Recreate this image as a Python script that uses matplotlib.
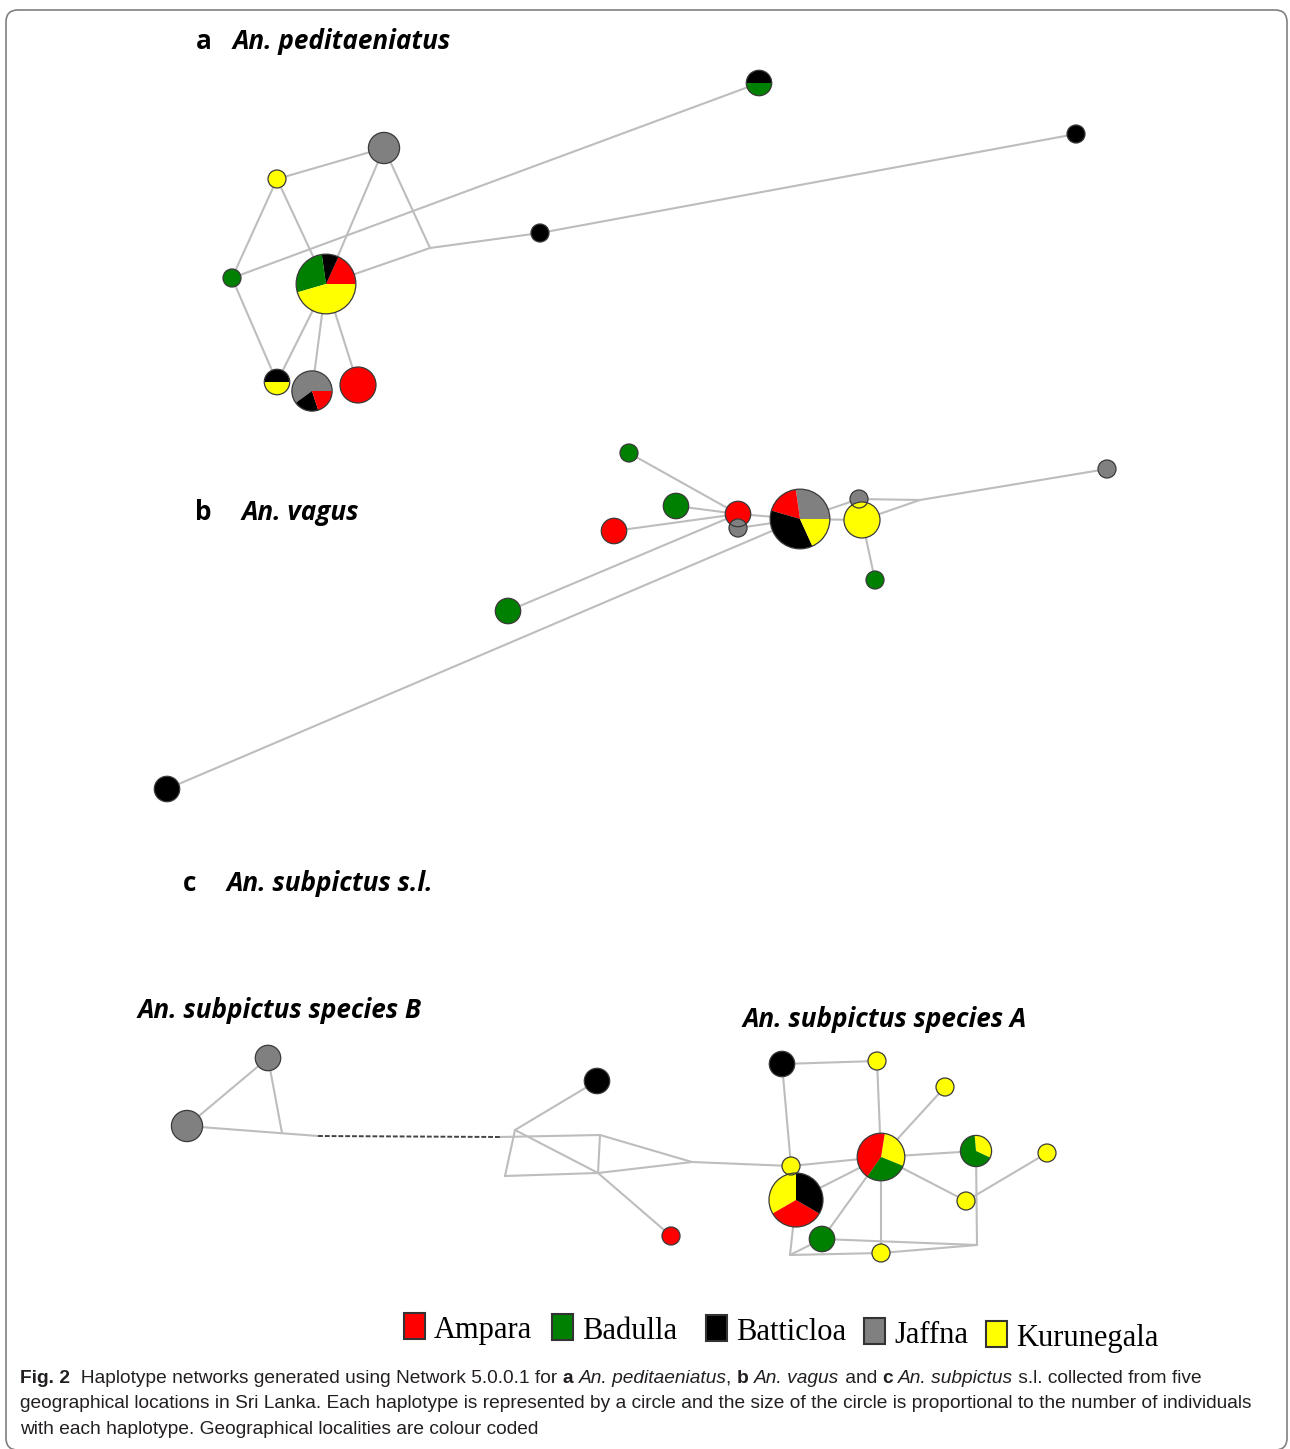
import numpy as np
import matplotlib
matplotlib.use("Agg")
import matplotlib.pyplot as plt
from matplotlib.patches import Wedge, Circle, FancyBboxPatch, Rectangle

# sampling localities and their colours
locations = ["Ampara", "Badulla", "Batticloa", "Jaffna", "Kurunegala"]
loc_colors = ["#ff0000", "#008000", "#000000", "#808080", "#ffff00"]

# --- network a: An. peditaeniatus ---
# haplotype counts per locality, in the order the wedges are drawn
a_names = ["Y1", "G1", "J1", "H1", "H2", "H3", "R1", "H4", "K1", "K2", "m1"]
a_counts = [
    {"Kurunegala": 1},
    {"Badulla": 1},
    {"Jaffna": 3},
    {"Ampara": 2, "Batticloa": 1, "Badulla": 3, "Kurunegala": 5},
    {"Batticloa": 1, "Kurunegala": 1},
    {"Jaffna": 3, "Batticloa": 1, "Ampara": 1},
    {"Ampara": 4},
    {"Batticloa": 1, "Badulla": 1},
    {"Batticloa": 1},
    {"Batticloa": 1},
    {},
]
a_start = [0, 0, 0, 0, 0, 0, 0, 0, 0, 0, 0]
a_x = [277, 232, 384, 326, 277, 312, 358, 759, 540, 1076, 430]
a_y = [179, 278, 148, 284, 382, 391, 385, 83, 233, 134, 248]
a_links = [("Y1", "J1"), ("Y1", "G1"), ("Y1", "H1"), ("J1", "H1"), ("J1", "m1"),
           ("G1", "H4"), ("H1", "m1"), ("m1", "K1"), ("K1", "K2"),
           ("G1", "H2"), ("H1", "H2"), ("H1", "H3"), ("H1", "R1")]

# --- network b: An. vagus ---
b_names = ["G1", "G2", "R1", "R2", "J1", "H1", "J2", "Y1", "G3", "J3", "G4", "K1", "m1"]
b_counts = [
    {"Badulla": 1},
    {"Badulla": 2},
    {"Ampara": 2},
    {"Ampara": 2},
    {"Jaffna": 1},
    {"Jaffna": 3, "Ampara": 2, "Batticloa": 4, "Kurunegala": 2},
    {"Jaffna": 1},
    {"Kurunegala": 4},
    {"Badulla": 1},
    {"Jaffna": 1},
    {"Badulla": 2},
    {"Batticloa": 2},
    {},
]
b_start = [0] * 13
b_x = [629, 676, 614, 738, 738, 800, 859, 862, 875, 1107, 508, 167, 920]
b_y = [453, 506, 531, 514, 528, 519, 499, 520, 580, 469, 611, 789, 500]
b_links = [("G1", "R2"), ("G2", "R2"), ("R1", "R2"), ("R2", "H1"), ("J1", "H1"),
           ("G4", "R2"), ("K1", "H1"), ("H1", "J2"), ("H1", "Y1"),
           ("J2", "m1"), ("Y1", "m1"), ("m1", "J3"), ("Y1", "G3")]

# --- network c: An. subpictus s.l. ---
c_names = ["B1", "B2", "K1", "R1", "Y1", "P1", "K2", "Y2", "Y3", "P2", "P3",
           "Y4", "Y5", "G1", "Y6",
           "m1", "m2", "m3", "m4", "m5", "m6", "m7", "m8", "m9", "m10"]
c_counts = [
    {"Jaffna": 3},
    {"Jaffna": 2},
    {"Batticloa": 2},
    {"Ampara": 1},
    {"Kurunegala": 1},
    {"Kurunegala": 3, "Ampara": 3, "Batticloa": 3},
    {"Batticloa": 2},
    {"Kurunegala": 1},
    {"Kurunegala": 1},
    {"Kurunegala": 2, "Ampara": 3, "Badulla": 2},
    {"Kurunegala": 1, "Badulla": 2},
    {"Kurunegala": 1},
    {"Kurunegala": 1},
    {"Badulla": 2},
    {"Kurunegala": 1},
] + [{}] * 10
c_start = [0, 0, 0, 0, 0, 90, 0, 0, 0, -22, -25, 0, 0, 0, 0] + [0] * 10
c_x = [187, 268, 597, 671, 791, 796, 782, 877, 945, 881, 976, 1047, 966, 822, 881,
       282, 318, 500, 515, 600, 598, 505, 692, 790, 977]
c_y = [1126, 1058, 1081, 1236, 1166, 1200, 1064, 1061, 1087, 1157, 1151, 1153, 1201, 1239, 1253,
       1133, 1136, 1137, 1130, 1135, 1173, 1176, 1162, 1255, 1245]
c_links = [("B1", "B2"), ("B2", "m1"), ("B1", "m2"), ("m3", "m5"), ("m4", "m7"),
           ("m7", "m6"), ("m5", "m6"), ("m4", "m6"), ("m6", "R1"), ("K1", "m4"),
           ("m5", "m8"), ("m6", "m8"), ("m8", "Y1"),
           ("K2", "Y2"), ("K2", "Y1"), ("Y2", "P2"), ("Y3", "P2"), ("Y1", "P2"),
           ("P2", "P3"), ("P2", "Y5"), ("Y5", "Y4"), ("P3", "m10"), ("P2", "P1"),
           ("P2", "G1"), ("P2", "Y6"), ("P1", "m9"), ("m9", "G1"), ("m9", "Y6"),
           ("G1", "m10"), ("Y6", "m10")]
c_dashed = [("m2", "m3")]

W, H = 1290, 1449
fig = plt.figure(figsize=(W / 100, H / 100), dpi=100)
ax = fig.add_axes([0, 0, 1, 1])
ax.set_xlim(0, W)
ax.set_ylim(H, 0)
ax.set_aspect("equal")
ax.axis("off")

color_of = dict(zip(locations, loc_colors))
edge_col = "#bdbdbd"


def draw_network(names, counts, start, xs, ys, links, dashed=()):
    pos = {n: (x, y) for n, x, y in zip(names, xs, ys)}
    for p, q in links:
        ax.plot([pos[p][0], pos[q][0]], [pos[p][1], pos[q][1]],
                color=edge_col, lw=1.5, zorder=1, solid_capstyle="round")
    for p, q in dashed:
        ax.plot([pos[p][0], pos[q][0]], [pos[p][1], pos[q][1]],
                color="#444444", lw=1.4, ls=(0, (2.5, 1.0)), zorder=1)
    for n, cnt, s0 in zip(names, counts, start):
        if not cnt:
            continue
        total = sum(cnt.values())
        r = 9 * np.sqrt(total)
        x, y = pos[n]
        ang = s0
        for loc, v in cnt.items():
            span = 360 * v / total
            # y axis is inverted, so angles are mirrored
            ax.add_patch(Wedge((x, y), r, -(ang + span), -ang,
                               facecolor=color_of[loc], edgecolor="none", zorder=3))
            ang += span
        ax.add_patch(Circle((x, y), r, facecolor="none", edgecolor="#3a3a3a",
                            lw=0.9, zorder=4))


draw_network(a_names, a_counts, a_start, a_x, a_y, a_links)
draw_network(b_names, b_counts, b_start, b_x, b_y, b_links)
draw_network(c_names, c_counts, c_start, c_x, c_y, c_links, c_dashed)

# frame
ax.add_patch(FancyBboxPatch((6, 10), 1281, 1440, boxstyle="round,pad=0,rounding_size=12",
                            facecolor="none", edgecolor="#808080", lw=1.2, zorder=0))

# panel titles
title_font = ["Open Sans", "DejaVu Sans"]
tsize = 18.8
panel_labels = [("a", 196, 49, "An. peditaeniatus", 233, 49),
                ("b", 195, 520, "An. vagus", 242, 520),
                ("c", 183, 891, "An. subpictus s.l.", 227, 891)]
for lab, lx, ly, name, nx, ny in panel_labels:
    ax.text(lx, ly, lab, fontsize=tsize, weight="bold", family=title_font, va="baseline")
    ax.text(nx, ny, name, fontsize=tsize, weight="bold", style="italic",
            family=title_font, va="baseline")
ax.text(138, 1018, "An. subpictus species B", fontsize=tsize, weight="bold", style="italic",
        family=title_font, va="baseline")
ax.text(743, 1027, "An. subpictus species A", fontsize=tsize, weight="bold", style="italic",
        family=title_font, va="baseline")

# legend
leg_x = [404, 552, 706, 864, 986]
leg_y = [1313, 1314, 1315, 1318, 1321]
for loc, col, lx, ly in zip(locations, loc_colors, leg_x, leg_y):
    ax.add_patch(Rectangle((lx, ly), 21, 26, facecolor=col, edgecolor="#333333",
                           lw=1.5, zorder=3))
    ax.text(lx + 30, ly + 25, loc, fontsize=22, family=["Liberation Serif"],
            va="baseline", ha="left")

# caption with mixed styles
fig.canvas.draw()
renderer = fig.canvas.get_renderer()
cap_font = ["Liberation Sans", "DejaVu Sans"]
cap_size = 13.8


def put_runs(x, y, runs):
    for txt, weight, style in runs:
        t = ax.text(x, y, txt, fontsize=cap_size, family=cap_font, weight=weight,
                    style=style, va="baseline", ha="left", color="#231f20")
        x += t.get_window_extent(renderer).width


line1 = [("Fig. 2", "bold", "normal"),
         ("  Haplotype networks generated using Network 5.0.0.1 for ", "normal", "normal"),
         ("a", "bold", "normal"), (" ", "normal", "normal"),
         ("An. peditaeniatus", "normal", "italic"), (", ", "normal", "normal"),
         ("b", "bold", "normal"), (" ", "normal", "normal"),
         ("An. vagus", "normal", "italic"), (" and ", "normal", "normal"),
         ("c", "bold", "normal"), (" ", "normal", "normal"),
         ("An. subpictus", "normal", "italic"),
         (" s.l. collected from five", "normal", "normal")]
line2 = [("geographical locations in Sri Lanka. Each haplotype is represented by a circle "
          "and the size of the circle is proportional to the number of individuals",
          "normal", "normal")]
line3 = [("with each haplotype. Geographical localities are colour coded", "normal", "normal")]
put_runs(20, 1383, line1)
put_runs(20, 1408, line2)
put_runs(20, 1434, line3)

fig.savefig("out.png", dpi=100)
